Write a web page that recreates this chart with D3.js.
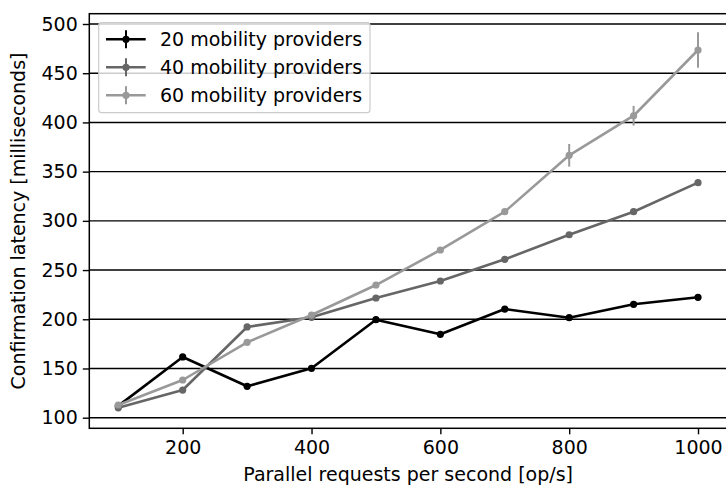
<!DOCTYPE html>
<html>
<head>
<meta charset="utf-8">
<script src="https://cdn.jsdelivr.net/npm/d3@7"></script>
<style>
  html, body { margin: 0; padding: 0; background: #fff; }
  svg { display: block; font-family: "DejaVu Sans", sans-serif; }
</style>
</head>
<body>
<svg id="chart" width="726" height="485"></svg>
<script>
const requests = [100, 200, 300, 400, 500, 600, 700, 800, 900, 1000];
const seriesNames = ["20 mobility providers", "40 mobility providers", "60 mobility providers"];
const latency20 = [112, 161.7, 131.9, 150.2, 199.6, 184.7, 210.4, 201.6, 215.2, 222.3];
const latency40 = [110, 128.1, 192.2, 202, 221.6, 238.9, 260.9, 285.9, 309.3, 338.8];
const latency60 = [112.9, 138.3, 176.6, 204.3, 234.8, 270.4, 309.3, 366.6, 406.8, 473.6];
const error20 = [2, 2, 2, 2, 2, 2, 2, 2, 2, 2];
const error40 = [2, 2, 2, 2, 2, 2, 2, 2, 3, 3];
const error60 = [2, 2, 2, 2, 2, 2, 2, 11.5, 10, 18];
const seriesColors = ["#000000", "#666666", "#999999"];
const xTicks = [200, 400, 600, 800, 1000];
const yTicks = [100, 150, 200, 250, 300, 350, 400, 450, 500];
const xLabel = "Parallel requests per second [op/s]";
const yLabel = "Confirmation latency [milliseconds]";

const svg = d3.select("#chart");
const plot = { left: 89.3, right: 727, top: 13.7, bottom: 428.3 };

const x = d3.scaleLinear().domain([55, 1045]).range([plot.left, plot.right]);
const y = d3.scaleLinear().domain([100, 500]).range([417.7, 24]);

const FS = 19;

// grid lines
svg.append("g").selectAll("line").data(yTicks).join("line")
  .attr("x1", plot.left).attr("x2", plot.right)
  .attr("y1", d => y(d)).attr("y2", d => y(d))
  .attr("stroke", "#000").attr("stroke-width", 1.4);

// axes
const xAxis = d3.axisBottom(x).tickValues(xTicks).tickFormat(d3.format("d")).tickSize(6).tickPadding(6);
const gx = svg.append("g").attr("transform", `translate(0,${plot.bottom})`).call(xAxis);
gx.select(".domain").remove();
gx.selectAll(".tick line").attr("stroke", "#000").attr("stroke-width", 1.4);
gx.selectAll(".tick text").attr("font-size", FS).attr("fill", "#000").attr("font-family", "DejaVu Sans");

const yAxis = d3.axisLeft(y).tickValues(yTicks).tickFormat(d3.format("d")).tickSize(6.5).tickPadding(5);
const gy = svg.append("g").attr("transform", `translate(${plot.left},0)`).call(yAxis);
gy.select(".domain").remove();
gy.selectAll(".tick line").attr("stroke", "#000").attr("stroke-width", 1.4);
gy.selectAll(".tick text").attr("font-size", FS).attr("fill", "#000").attr("font-family", "DejaVu Sans");

// spines
svg.append("rect")
  .attr("x", plot.left).attr("y", plot.top)
  .attr("width", plot.right - plot.left).attr("height", plot.bottom - plot.top)
  .attr("fill", "none").attr("stroke", "#000").attr("stroke-width", 1.5);

// series
const allSeries = [
  { name: seriesNames[0], vals: latency20, err: error20, color: seriesColors[0] },
  { name: seriesNames[1], vals: latency40, err: error40, color: seriesColors[1] },
  { name: seriesNames[2], vals: latency60, err: error60, color: seriesColors[2] }
];

const line = d3.line().x(d => x(d.x)).y(d => y(d.y));

allSeries.forEach(s => {
  const pts = requests.map((r, i) => ({ x: r, y: s.vals[i], e: s.err[i] }));
  const g = svg.append("g");
  g.selectAll("line.err").data(pts).join("line").attr("class", "err")
    .attr("x1", d => x(d.x)).attr("x2", d => x(d.x))
    .attr("y1", d => y(d.y - d.e)).attr("y2", d => y(d.y + d.e))
    .attr("stroke", s.color).attr("stroke-width", 2);
  g.append("path").datum(pts).attr("d", line)
    .attr("fill", "none").attr("stroke", s.color).attr("stroke-width", 2.6)
    .attr("stroke-linejoin", "round");
  g.selectAll("circle").data(pts).join("circle")
    .attr("cx", d => x(d.x)).attr("cy", d => y(d.y)).attr("r", 3.6)
    .attr("fill", s.color);
});

// legend
const lg = svg.append("g");
lg.append("rect").attr("x", 98.7).attr("y", 22.7).attr("width", 271.3).attr("height", 90)
  .attr("rx", 3).attr("fill", "#fff").attr("fill-opacity", 0.8)
  .attr("stroke", "#cccccc").attr("stroke-width", 1.2);
allSeries.forEach((s, i) => {
  const cy = 39.3 + i * 28;
  lg.append("line").attr("x1", 106).attr("x2", 145.7).attr("y1", cy).attr("y2", cy)
    .attr("stroke", s.color).attr("stroke-width", 2.6);
  lg.append("line").attr("x1", 126).attr("x2", 126).attr("y1", cy - 9).attr("y2", cy + 9)
    .attr("stroke", s.color).attr("stroke-width", 2);
  lg.append("circle").attr("cx", 126).attr("cy", cy).attr("r", 3.6).attr("fill", s.color);
  lg.append("text").attr("x", 160).attr("y", cy).attr("dy", "0.35em")
    .attr("font-size", FS).attr("fill", "#000").text(s.name);
});

// axis labels
svg.append("text").attr("x", (plot.left + plot.right) / 2).attr("y", 481)
  .attr("text-anchor", "middle").attr("font-size", FS).attr("fill", "#000").text(xLabel);
svg.append("text").attr("transform", `translate(25,${(plot.top + plot.bottom) / 2}) rotate(-90)`)
  .attr("text-anchor", "middle").attr("font-size", FS).attr("fill", "#000").text(yLabel);
</script>
</body>
</html>
